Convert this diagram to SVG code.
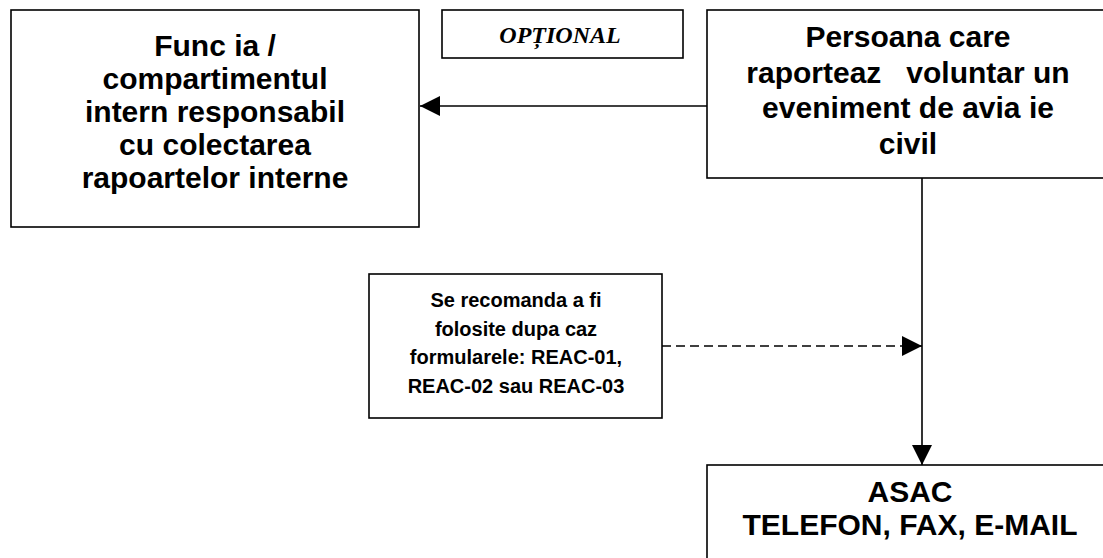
<svg xmlns="http://www.w3.org/2000/svg" width="1103" height="558" viewBox="0 0 1103 558">
<style>
.box{fill:#fff;stroke:#000;stroke-width:1.6}
.t{font-family:"Liberation Sans",Arial,sans-serif;font-weight:bold;font-size:30px;text-anchor:middle;fill:#000}
.s{font-size:20px}
.opt{font-family:"Liberation Serif","Times New Roman",serif;font-weight:bold;font-style:italic;font-size:24px;text-anchor:middle;fill:#000}
.ln{stroke:#000;stroke-width:1.6;fill:none}
</style>
<defs>
<marker id="ah" markerUnits="userSpaceOnUse" markerWidth="20" markerHeight="20" viewBox="0 0 20 20" refX="20" refY="10" orient="auto">
<path d="M0,0 L20,10 L0,20 Z" fill="#000"/>
</marker>
</defs>
<rect width="1103" height="558" fill="#fff"/>
<g id="connectors">
<line class="ln" x1="707" y1="106" x2="420" y2="106" marker-end="url(#ah)"/>
<line class="ln" x1="922" y1="178" x2="922" y2="465" marker-end="url(#ah)"/>
<line class="ln" x1="662" y1="346" x2="922" y2="346" stroke-dasharray="9 5" marker-end="url(#ah)"/>
</g>
<g id="node-functia">
<rect class="box" x="11" y="10" width="408" height="217"/>
<text class="t" x="215" y="56">Func ia /</text>
<text class="t" x="215" y="89">compartimentul</text>
<text class="t" x="215" y="122">intern responsabil</text>
<text class="t" x="215" y="155">cu colectarea</text>
<text class="t" x="215" y="188">rapoartelor interne</text>
</g>
<g id="node-optional">
<rect class="box" x="442" y="10" width="241" height="48"/>
<text class="opt" x="560" y="43">OPȚIONAL</text>
</g>
<g id="node-persoana">
<rect class="box" x="707" y="10" width="420" height="168"/>
<text class="t" x="908" y="47" xml:space="preserve">Persoana care</text>
<text class="t" x="908" y="83" xml:space="preserve">raporteaz   voluntar un</text>
<text class="t" x="908" y="118" xml:space="preserve">eveniment de avia ie</text>
<text class="t" x="908" y="154">civil</text>
</g>
<g id="node-formulare">
<rect class="box" x="369" y="274" width="293" height="144"/>
<text class="t s" x="516" y="307">Se recomanda a fi</text>
<text class="t s" x="516" y="336">folosite dupa caz</text>
<text class="t s" x="516" y="364">formularele: REAC-01,</text>
<text class="t s" x="516" y="393">REAC-02 sau REAC-03</text>
</g>
<g id="node-asac">
<rect class="box" x="707" y="465" width="412" height="120"/>
<text class="t" x="910" y="502">ASAC</text>
<text class="t" x="910" y="535">TELEFON, FAX, E-MAIL</text>
</g>
</svg>
